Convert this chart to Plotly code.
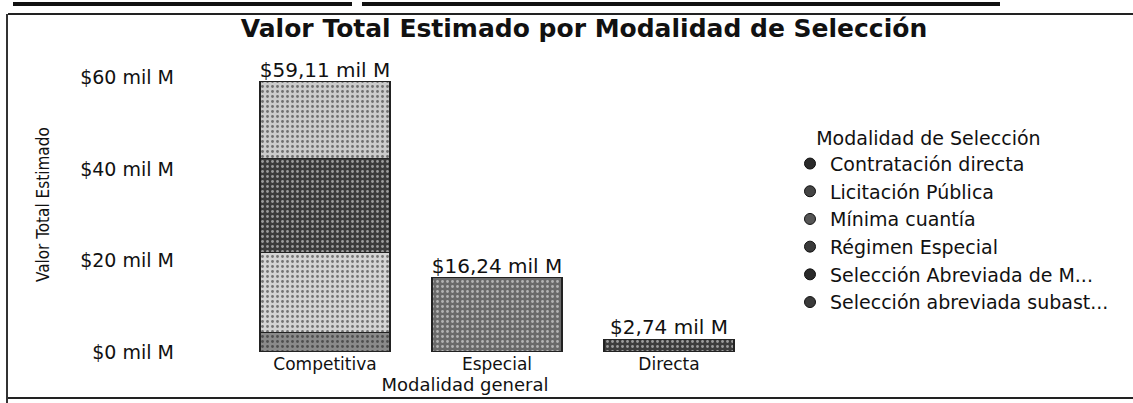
import plotly.graph_objects as go

# ---------------- data ----------------
categories = ["Competitiva", "Especial", "Directa"]
series_names = [
    "Contratación directa",
    "Licitación Pública",
    "Mínima cuantía",
    "Régimen Especial",
    "Selección Abreviada de M...",
    "Selección abreviada subast...",
]
# values in "mil M" per category (Competitiva, Especial, Directa)
contratacion_directa = [0.0, 0.0, 2.74]
licitacion_publica = [4.20, 0.0, 0.0]
minima_cuantia = [17.60, 0.0, 0.0]
regimen_especial = [0.0, 16.24, 0.0]
seleccion_abreviada_m = [20.60, 0.0, 0.0]
seleccion_abreviada_subasta = [16.71, 0.0, 0.0]

series_values = [
    contratacion_directa,
    licitacion_publica,
    minima_cuantia,
    regimen_especial,
    seleccion_abreviada_m,
    seleccion_abreviada_subasta,
]
tick_values = [0, 20, 40, 60]
tick_labels = ["$0 mil M", "$20 mil M", "$40 mil M", "$60 mil M"]

# ---------------- style ----------------
colors = ["#3c3c3c", "#8a8a8a", "#d4d4d4", "#6a6a6a", "#3a3a3a", "#cccccc"]
pat_fg = ["#ffffff", "#111111", "#111111", "#ffffff", "#ffffff", "#111111"]
legend_col = ["#2a2a2a", "#444444", "#555555", "#3a3a3a", "#2a2a2a", "#3a3a3a"]

FONT = "DejaVu Sans, Verdana, sans-serif"
NARROW = "Liberation Sans Narrow, DejaVu Sans Condensed, Arial Narrow, sans-serif"
W, H = 1133, 403
L, R, T, B = 175, 378, 64, 51
PW, PH = W - L - R, H - T - B


def px_x(x):
    return (x - L) / PW


def px_y(y):
    return (H - B - y) / PH


fig = go.Figure()

for name, vals, c, fg in zip(series_names, series_values, colors, pat_fg):
    xs = [cat for cat, v in zip(categories, vals) if v > 0]
    ys = [v for v in vals if v > 0]
    if not xs:
        continue
    fig.add_trace(go.Bar(
        x=xs, y=ys, name=name, showlegend=False,
        marker=dict(color=c, line=dict(color="#222222", width=1.2),
                    pattern=dict(shape=".", fgcolor=fg, bgcolor=c, size=5, solidity=0.25)),
        hoverinfo="skip",
    ))

# legend entries with round markers
for name, lc in zip(series_names, legend_col):
    fig.add_trace(go.Scatter(
        x=[None], y=[None], mode="markers", name=name,
        marker=dict(symbol="circle", size=11, color=lc, line=dict(color="#111111", width=1)),
    ))

totals = [sum(s[i] for s in series_values) for i in range(len(categories))]
labels = [("$" + f"{t:.2f}".replace(".", ",") + " mil M") for t in totals]
fig.add_trace(go.Scatter(
    x=categories, y=totals, mode="text", text=labels, textposition="top center",
    textfont=dict(family=FONT, size=20, color="#111111"),
    showlegend=False, cliponaxis=False, hoverinfo="skip",
))

shapes = [
    # frame lines of the scanned dashboard
    dict(type="line", xref="paper", yref="paper", x0=px_x(8), x1=px_x(1133), y0=px_y(14), y1=px_y(14),
         line=dict(color="#222222", width=2)),
    dict(type="line", xref="paper", yref="paper", x0=px_x(7), x1=px_x(7), y0=px_y(14), y1=px_y(403),
         line=dict(color="#333333", width=2)),
    dict(type="line", xref="paper", yref="paper", x0=px_x(8), x1=px_x(1133), y0=px_y(398), y1=px_y(398),
         line=dict(color="#222222", width=2)),
    dict(type="line", xref="paper", yref="paper", x0=px_x(13), x1=px_x(352), y0=px_y(4), y1=px_y(4),
         line=dict(color="#111111", width=4)),
    dict(type="line", xref="paper", yref="paper", x0=px_x(362), x1=px_x(1000), y0=px_y(4), y1=px_y(4),
         line=dict(color="#111111", width=4)),
]

annotations = [
    dict(text="Valor Total Estimado", xref="paper", yref="paper", x=px_x(43), y=px_y(205),
         xanchor="center", yanchor="middle", textangle=-90, showarrow=False,
         font=dict(family=NARROW, size=17, color="#111111")),
]

fig.update_layout(
    width=W, height=H,
    margin=dict(l=L, r=R, t=T, b=B, autoexpand=False),
    paper_bgcolor="white", plot_bgcolor="white",
    barmode="stack", bargap=0.244,
    font=dict(family=FONT, size=16, color="#111111"),
    title=dict(text="<b>Valor Total Estimado por Modalidad de Selección</b>",
               x=584 / W, xref="container", xanchor="center",
               y=1 - 28 / H, yref="container", yanchor="middle",
               font=dict(family="DejaVu Sans, sans-serif", size=25, color="#111111")),
    xaxis=dict(range=[-0.872, 2.5], categoryorder="array", categoryarray=categories,
               showgrid=False, zeroline=False, showline=False, ticks="",
               tickfont=dict(size=17), title=dict(text="Modalidad general", font=dict(size=18), standoff=2),
               fixedrange=True),
    yaxis=dict(range=[0, 63], tickvals=tick_values, ticktext=tick_labels, showgrid=False, zeroline=False,
               showline=False, ticks="", tickfont=dict(size=19)),
    legend=dict(title=dict(text="&nbsp;&nbsp;&nbsp;&nbsp;Modalidad de Selección", font=dict(size=19)),
                x=px_x(790), xanchor="left", y=px_y(120), yanchor="top",
                font=dict(size=19), bgcolor="rgba(0,0,0,0)", traceorder="normal"),
    shapes=shapes,
    annotations=annotations,
    showlegend=True,
)

fig.write_html("out.html", config={"displayModeBar": False},
               post_script="document.body.style.margin='0';document.body.style.overflow='hidden';")
